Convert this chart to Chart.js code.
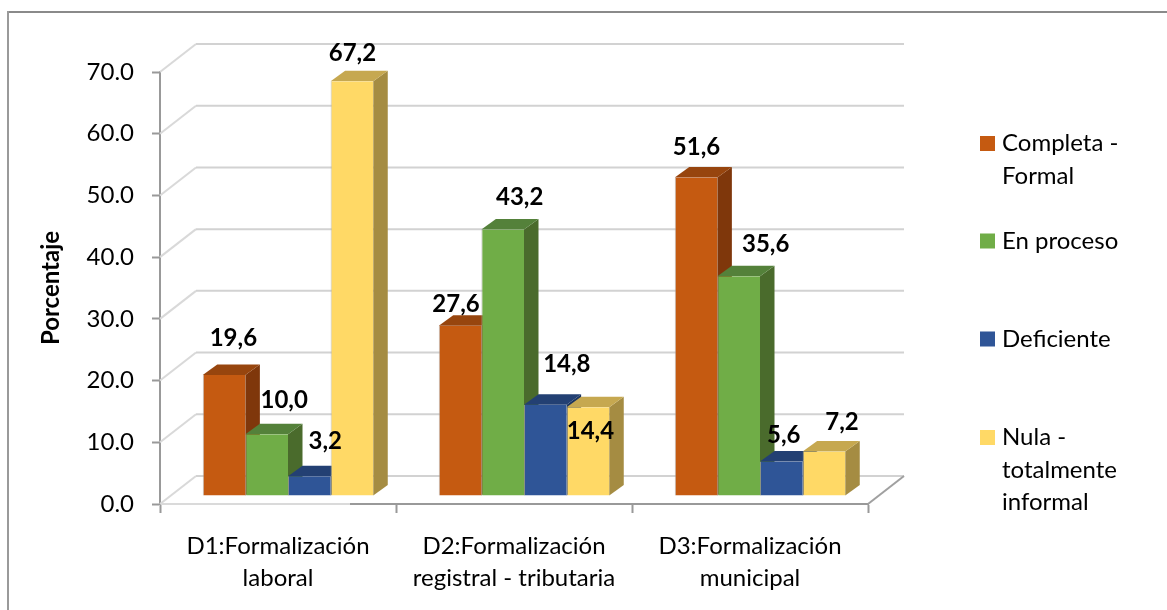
<!DOCTYPE html>
<html><head><meta charset="utf-8">
<style>html,body{margin:0;padding:0;background:#fff}#w{width:1167px;height:610px;position:relative}</style>
<script src="https://cdn.jsdelivr.net/npm/chart.js@4"></script>
</head><body><div id="w"><canvas id="c" width="1167" height="610"></canvas></div>
<script>
const categories = [["D1:Formalización","laboral"],["D2:Formalización","registral - tributaria"],["D3:Formalización","municipal"]];
const seriesNames = ["Completa - Formal","En proceso","Deficiente","Nula - totalmente informal"];
const legendLines = [["Completa -","Formal"],["En proceso"],["Deficiente"],["Nula -","totalmente","informal"]];
const completa = [19.6,27.6,51.6];
const enProceso = [10.0,43.2,35.6];
const deficiente = [3.2,14.8,5.6];
const nula = [67.2,14.4,7.2];
const frontColors = ["#C55A11","#70AD47","#2F5597","#FFD966"];
const topColors = ["#97450E","#54813A","#234073","#C6A850"];
const sideColors = ["#7F370B","#4A6B2C","#1C3560","#A58C42"];
// manual data-label offsets from each bar's top centre (series x category)
const labelOffsets = [
 [[9.3,-37],[-4,-21],[0.5,-30]],
 [[17.5,-34],[17,-32],[27,-32]],
 [[16,-35],[21.5,-40],[2.5,-26]],
 [[0.5,-28],[2.5,24],[18,-29]]
];
const FONT = "Lato, 'Open Sans', sans-serif";
const WALL = {dx:36, dy:28};      // depth of the chart box
const BAR_OFF = {dx:10, dy:8};    // bar front plane relative to the axis plane
const BAR_D = {dx:14.5, dy:10.5}; // depth of each bar
function poly(ctx, pts, fill){ctx.beginPath();pts.forEach((p,i)=>i?ctx.lineTo(p[0],p[1]):ctx.moveTo(p[0],p[1]));ctx.closePath();ctx.fillStyle=fill;ctx.fill();}
function line(ctx,x1,y1,x2,y2,col,w){ctx.beginPath();ctx.moveTo(x1,y1);ctx.lineTo(x2,y2);ctx.strokeStyle=col;ctx.lineWidth=w;ctx.stroke();}
const box3d = {
 id:'box3d',
 beforeDraw(chart){
  const ctx=chart.ctx;ctx.save();
  ctx.fillStyle='#fff';ctx.fillRect(0,0,chart.width,chart.height);
  line(ctx,7,12,1167,12,'#8A8A8A',2);
  line(ctx,8,11,8,610,'#9A9A9A',2);
  ctx.restore();
 },
 beforeDatasetsDraw(chart){
  const ctx=chart.ctx,a=chart.chartArea,y=chart.scales.y;ctx.save();
  y.ticks.forEach(t=>{
   const p=y.getPixelForValue(t.value);
   line(ctx,a.left,p,a.left+WALL.dx,p-WALL.dy,'#D9D9D9',2);
   line(ctx,a.left+WALL.dx,p-WALL.dy,a.right+WALL.dx,p-WALL.dy,'#D2D2D2',2);
  });
  line(ctx,a.right,a.bottom,a.right+WALL.dx,a.bottom-WALL.dy,'#A0A0A0',2);
  line(ctx,a.left+1,a.bottom,350,a.bottom,'#DADADA',2);
  // sides and tops, left to right; the library then paints the front faces over them
  ctx.translate(BAR_OFF.dx,-BAR_OFF.dy);
  chart.data.datasets.forEach((ds,i)=>{
   chart.getDatasetMeta(i).data.forEach(b=>{
    const L=b.x-b.width/2,R=b.x+b.width/2,T=b.y,B=b.base,dx=BAR_D.dx,dy=BAR_D.dy;
    poly(ctx,[[R,T],[R+dx,T-dy],[R+dx,B-dy],[R,B]],sideColors[i]);
    poly(ctx,[[L,T],[L+dx,T-dy],[R+dx,T-dy],[R,T]],topColors[i]);
   });
  });
  ctx.restore();
 },
 beforeDatasetDraw(chart){
  chart.ctx.save();
  chart.ctx.translate(BAR_OFF.dx,-BAR_OFF.dy);
 },
 afterDatasetDraw(chart){chart.ctx.restore();},
 afterDatasetsDraw(chart){
  const ctx=chart.ctx;ctx.save();
  ctx.font="bold 24px "+FONT;ctx.fillStyle='#000';ctx.textAlign='center';ctx.textBaseline='middle';
  chart.data.datasets.forEach((ds,i)=>{
   chart.getDatasetMeta(i).data.forEach((b,j)=>{
    const o=labelOffsets[i][j];
    ctx.fillText(ds.data[j].toFixed(1).replace('.',','),b.x+BAR_OFF.dx+o[0],b.y-BAR_OFF.dy+o[1]);
   });
  });
  // legend
  const swX=980,txtX=1002,firstY=[143.5,241,339,437.5],lh=32.5;
  ctx.font="24px "+FONT;ctx.textAlign='left';
  legendLines.forEach((ls,i)=>{
   ctx.fillStyle=frontColors[i];ctx.fillRect(swX,firstY[i]-7.5,15,15);
   ctx.fillStyle='#000';
   ls.forEach((t,k)=>ctx.fillText(t,txtX,firstY[i]+k*lh));
  });
  ctx.restore();
 }
};
const allSeries=[completa,enProceso,deficiente,nula];
new Chart(document.getElementById('c'),{
 type:'bar',
 data:{labels:categories,datasets:allSeries.map((d,i)=>({label:seriesNames[i],data:d,backgroundColor:frontColors[i],borderColor:'rgba(165,165,165,0.7)',borderWidth:{left:1,bottom:1,top:0,right:0},clip:false,categoryPercentage:0.7225,barPercentage:1}))},
 plugins:[box3d],
 options:{
  responsive:false,animation:false,
  layout:{padding:{left:37,right:299,top:72,bottom:0}},
  plugins:{legend:{display:false},tooltip:{enabled:false},title:{display:false}},
  scales:{
   x:{
    afterFit(s){s.height=106;},
    offset:true,
    grid:{offset:true,drawOnChartArea:false,drawTicks:true,tickLength:9,tickColor:'#999',tickWidth:2},
    border:{color:'#999',width:2},
    ticks:{font:{family:FONT,size:24,lineHeight:1.333},color:'#000',padding:17,maxRotation:0,autoSkip:false}
   },
   y:{
    afterFit(s){s.width=123;},
    min:0,max:70,
    title:{display:true,text:'Porcentaje',color:'#000',font:{family:FONT,size:24,weight:'bold'},padding:{top:0,bottom:0}},
    grid:{drawOnChartArea:false,tickLength:8,tickColor:'#999',tickWidth:2},
    border:{color:'#999',width:2},
    ticks:{stepSize:10,font:{family:FONT,size:24},color:'#000',padding:18,callback:v=>v.toFixed(1)}
   }
  }
 }
});
</script></body></html>
